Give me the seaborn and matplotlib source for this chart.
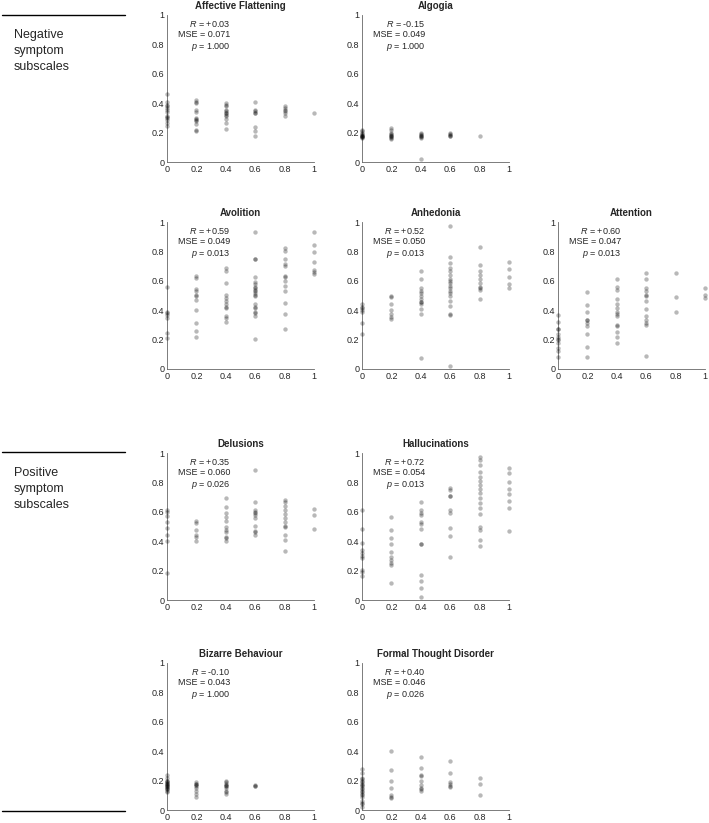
import matplotlib
matplotlib.use('Agg')
import matplotlib.pyplot as plt
from matplotlib.lines import Line2D
import seaborn as sns
import pandas as pd

# Predicted (x) symptom levels and observed scores per level
x_levels = [0, 0.2, 0.4, 0.6, 0.8, 1]

affective = [
    [0.46, 0.41, 0.39, 0.378, 0.37, 0.355, 0.34, 0.315, 0.305, 0.30, 0.287, 0.265, 0.247],
    [0.42, 0.41, 0.40, 0.355, 0.34, 0.30, 0.29, 0.285, 0.28, 0.26, 0.22, 0.21],
    [0.40, 0.39, 0.38, 0.355, 0.345, 0.335, 0.33, 0.32, 0.31, 0.29, 0.265, 0.225],
    [0.41, 0.355, 0.345, 0.335, 0.33, 0.24, 0.21, 0.175],
    [0.38, 0.37, 0.355, 0.35, 0.335, 0.315],
    [0.33],
]
algogia = [
    [0.22, 0.21, 0.20, 0.19, 0.185, 0.18, 0.18, 0.175, 0.17, 0.17, 0.165],
    [0.23, 0.22, 0.20, 0.19, 0.185, 0.18, 0.175, 0.17, 0.16, 0.155],
    [0.20, 0.19, 0.185, 0.18, 0.175, 0.17, 0.16, 0.02],
    [0.195, 0.19, 0.185, 0.18, 0.175],
    [0.18],
    [],
]
avolition = [
    [0.56, 0.39, 0.38, 0.37, 0.35, 0.245, 0.21],
    [0.63, 0.62, 0.545, 0.53, 0.505, 0.495, 0.47, 0.40, 0.31, 0.26, 0.22],
    [0.69, 0.67, 0.585, 0.505, 0.48, 0.46, 0.44, 0.425, 0.415, 0.36, 0.35, 0.32],
    [0.93, 0.745, 0.745, 0.625, 0.595, 0.575, 0.56, 0.55, 0.54, 0.53, 0.515, 0.505,
     0.495, 0.44, 0.425, 0.415, 0.39, 0.38, 0.36, 0.205],
    [0.82, 0.80, 0.75, 0.715, 0.70, 0.635, 0.625, 0.60, 0.567, 0.533, 0.45, 0.375, 0.275],
    [0.935, 0.845, 0.795, 0.73, 0.675, 0.66, 0.645],
]
anhedonia = [
    [0.44, 0.425, 0.415, 0.40, 0.385, 0.31, 0.24],
    [0.50, 0.49, 0.445, 0.40, 0.375, 0.355, 0.34],
    [0.665, 0.61, 0.55, 0.53, 0.515, 0.495, 0.475, 0.455, 0.455, 0.445, 0.405, 0.375, 0.075],
    [0.97, 0.765, 0.72, 0.69, 0.67, 0.64, 0.615, 0.60, 0.585, 0.565, 0.55, 0.53, 0.515,
     0.495, 0.46, 0.43, 0.375, 0.365, 0.02],
    [0.83, 0.71, 0.67, 0.64, 0.615, 0.585, 0.56, 0.55, 0.54, 0.475],
    [0.73, 0.68, 0.625, 0.58, 0.55],
]
attention = [
    [0.37, 0.32, 0.27, 0.27, 0.24, 0.22, 0.205, 0.195, 0.18, 0.14, 0.12, 0.085],
    [0.525, 0.435, 0.39, 0.335, 0.335, 0.31, 0.29, 0.235, 0.15, 0.085],
    [0.61, 0.555, 0.54, 0.475, 0.44, 0.415, 0.39, 0.375, 0.36, 0.30, 0.29, 0.255, 0.22, 0.18],
    [0.65, 0.615, 0.55, 0.53, 0.505, 0.495, 0.46, 0.41, 0.36, 0.33, 0.31, 0.30, 0.09],
    [0.655, 0.49, 0.39],
    [0.55, 0.505, 0.48],
]
delusions = [
    [0.615, 0.60, 0.57, 0.53, 0.49, 0.44, 0.40, 0.185],
    [0.54, 0.525, 0.475, 0.445, 0.43, 0.40],
    [0.695, 0.63, 0.59, 0.565, 0.535, 0.495, 0.475, 0.46, 0.43, 0.42, 0.40],
    [0.885, 0.67, 0.615, 0.60, 0.59, 0.575, 0.555, 0.505, 0.47, 0.46, 0.445],
    [0.68, 0.665, 0.64, 0.61, 0.585, 0.555, 0.53, 0.505, 0.495, 0.445, 0.405, 0.33],
    [0.62, 0.58, 0.48],
]
hallucinations = [
    [0.61, 0.485, 0.39, 0.34, 0.32, 0.30, 0.285, 0.205, 0.19, 0.165],
    [0.565, 0.475, 0.42, 0.38, 0.325, 0.29, 0.27, 0.255, 0.24, 0.115],
    [0.67, 0.61, 0.595, 0.575, 0.53, 0.515, 0.485, 0.38, 0.38, 0.17, 0.13, 0.085, 0.02],
    [0.765, 0.75, 0.71, 0.71, 0.615, 0.59, 0.49, 0.435, 0.29],
    [0.97, 0.95, 0.915, 0.87, 0.835, 0.81, 0.785, 0.755, 0.73, 0.695, 0.66, 0.625,
     0.585, 0.495, 0.475, 0.41, 0.37],
    [0.90, 0.865, 0.80, 0.755, 0.72, 0.675, 0.625, 0.47],
]
bizarre = [
    [0.24, 0.22, 0.20, 0.195, 0.19, 0.185, 0.18, 0.175, 0.17, 0.165, 0.16, 0.155,
     0.15, 0.145, 0.14, 0.13, 0.12],
    [0.19, 0.18, 0.175, 0.17, 0.165, 0.15, 0.13, 0.11, 0.09],
    [0.20, 0.19, 0.18, 0.17, 0.165, 0.16, 0.15, 0.13, 0.12, 0.11],
    [0.17, 0.165, 0.16],
    [],
    [],
]
formal = [
    [0.28, 0.25, 0.22, 0.21, 0.20, 0.19, 0.18, 0.17, 0.16, 0.15, 0.14, 0.13, 0.12,
     0.11, 0.10, 0.09, 0.06, 0.05, 0.04, 0.02],
    [0.40, 0.27, 0.195, 0.15, 0.10, 0.09, 0.085],
    [0.36, 0.285, 0.24, 0.23, 0.20, 0.17, 0.15, 0.14, 0.13],
    [0.335, 0.25, 0.19, 0.18, 0.16, 0.155],
    [0.22, 0.175, 0.105],
    [],
]

titles = ['Affective Flattening', 'Algogia', 'Avolition', 'Anhedonia', 'Attention',
          'Delusions', 'Hallucinations', 'Bizarre Behaviour', 'Formal Thought Disorder']
values = [affective, algogia, avolition, anhedonia, attention,
          delusions, hallucinations, bizarre, formal]
r_vals = ['+0.03', '-0.15', '+0.59', '+0.52', '+0.60', '+0.35', '+0.72', '-0.10', '+0.40']
mse_vals = ['0.071', '0.049', '0.049', '0.050', '0.047', '0.060', '0.054', '0.043', '0.046']
p_vals = ['1.000', '1.000', '0.013', '0.013', '0.013', '0.026', '0.013', '1.000', '0.026']
tick_vals = [0, 0.2, 0.4, 0.6, 0.8, 1]
tick_labels = ['0', '0.2', '0.4', '0.6', '0.8', '1']

# grid slot (row, col) for every panel
slots = [(0, 0), (0, 1), (1, 0), (1, 1), (1, 2), (2, 0), (2, 1), (3, 0), (3, 1)]

rows = []
for title, panel in zip(titles, values):
    for xv, ys in zip(x_levels, panel):
        for yv in ys:
            rows.append({'panel': title, 'x': xv, 'y': yv})
df = pd.DataFrame(rows)

sns.set_style('white')
plt.rcParams['font.family'] = ['Liberation Sans', 'DejaVu Sans']
plt.rcParams['mathtext.fontset'] = 'custom'
plt.rcParams['mathtext.rm'] = 'Liberation Sans'
plt.rcParams['mathtext.it'] = 'Liberation Sans:italic'

W, H = 709, 823
fig = plt.figure(figsize=(W / 100, H / 100), dpi=100)

col_left = [167, 362, 558]
row_top = [15, 222, 453, 663]
size = 147

for i, title in enumerate(titles):
    r, c = slots[i]
    ax = fig.add_axes([col_left[c] / W, 1 - (row_top[r] + size) / H, size / W, size / H])
    sns.scatterplot(data=df[df['panel'] == title], x='x', y='y', ax=ax, color='black',
                    alpha=0.28, s=10, linewidth=0, clip_on=False, legend=False, zorder=3)
    ax.set_xlim(0, 1)
    ax.set_ylim(0, 1)
    ax.set_xticks(tick_vals)
    ax.set_xticklabels(tick_labels)
    ax.set_yticks(tick_vals)
    ax.set_yticklabels(tick_labels)
    ax.set_xlabel('')
    ax.set_ylabel('')
    ax.tick_params(direction='in', length=2, width=0.5, labelsize=6.5, pad=2,
                   colors='#555555', labelcolor='#262626')
    for side in ['top', 'right']:
        ax.spines[side].set_visible(False)
    for side in ['left', 'bottom']:
        ax.spines[side].set_color('#666666')
        ax.spines[side].set_linewidth(0.6)
    ax.set_title(title, fontsize=7, fontweight='bold', pad=4)
    ax.text(0.43, 0.975,
            '$R$ = ' + r_vals[i] + '\nMSE = ' + mse_vals[i] + '\n$p$ = ' + p_vals[i],
            transform=ax.transAxes, ha='right', va='top', multialignment='right',
            fontsize=6.5, linespacing=1.2, color='#262626')

# section labels and separators
for y_line in [15, 452, 811]:
    fig.add_artist(Line2D([2 / W, 125 / W], [1 - y_line / H] * 2, color='black', lw=1))
fig.text(14 / W, 1 - 29 / H, 'Negative\nsymptom\nsubscales', ha='left', va='top',
         fontsize=9, linespacing=1.45)
fig.text(14 / W, 1 - 467 / H, 'Positive\nsymptom\nsubscales', ha='left', va='top',
         fontsize=9, linespacing=1.45)

fig.savefig('out.png', dpi=100)
